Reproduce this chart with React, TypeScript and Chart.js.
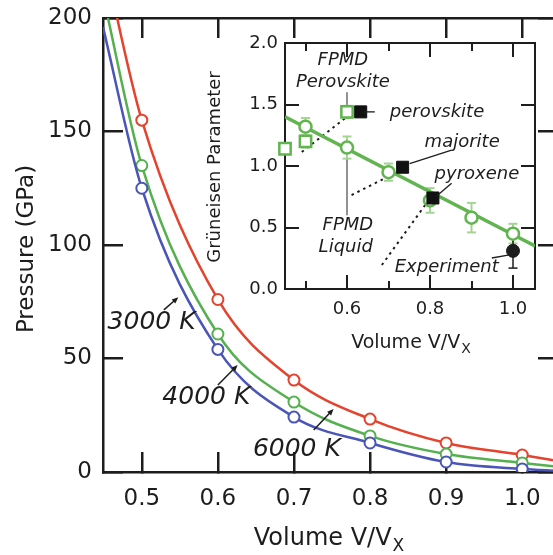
import { useEffect, useRef } from "react";
import { Chart, registerables } from "chart.js";

Chart.register(...registerables);

// Isotherms: pressure (GPa) against volume V/VX
const volumes = [0.5, 0.6, 0.7, 0.8, 0.9, 1.0];
const pressure3000K = [155, 76, 40.5, 23.3, 12.8, 7.5];
const pressure4000K = [135, 60.8, 30.8, 15.9, 7.9, 4.0];
const pressure6000K = [125, 54, 24.2, 12.8, 4.4, 1.3];
// where each isotherm meets the left and right edges of the frame
const edgeVolumes = [0.449, 1.047];
const edge3000K = [228, 4.8];
const edge4000K = [210, 2.3];
const edge6000K = [196, 0.5];

const pressureTicks = [0, 50, 100, 150, 200];
const pressureTickLabels = ["0", "50", "100", "150", "200"];
const volumeTicks = [0.5, 0.6, 0.7, 0.8, 0.9, 1.0];
const volumeTickLabels = ["0.5", "0.6", "0.7", "0.8", "0.9", "1.0"];
const isothermLabels = ["3000 K", "4000 K", "6000 K"];

// Inset: Grüneisen parameter against volume
const fitVolumes = [0.4506, 1.053];
const fitGamma = [1.4, 0.35];
const liquidVolumes = [0.5, 0.6, 0.7, 0.8, 0.9, 1.0];
const liquidGamma = [1.32, 1.15, 0.95, 0.72, 0.58, 0.45];
const liquidError = [0.07, 0.09, 0.07, 0.1, 0.12, 0.08];
const perovskiteFpmdVolumes = [0.4506, 0.5, 0.6];
const perovskiteFpmdGamma = [1.14, 1.2, 1.44];
const perovskiteFpmdError = [0.04, 0.05, 0.05];
const phaseNames = ["perovskite", "majorite", "pyroxene"];
const phaseVolumes = [0.633, 0.734, 0.807];
const phaseGamma = [1.44, 0.99, 0.74];
const experimentVolume = [1.0];
const experimentGamma = [0.31];
const experimentRange = [0.17, 0.44];
const gammaTicks = [0, 0.5, 1.0, 1.5, 2.0];
const gammaTickLabels = ["0.0", "0.5", "1.0", "1.5", "2.0"];
const insetMajorTicks = [0.6, 0.8, 1.0];
const insetMajorLabels = ["0.6", "0.8", "1.0"];
const insetMinorTicks = [0.5, 0.7, 0.9];

const FAMILY = "'DejaVu Sans', 'Liberation Sans', sans-serif";
const INK = "#1d1d1d";
const RED = "#e4432d";
const GREEN = "#55b04f";
const BLUE = "#4a55b8";
const INSET_GREEN = "#62b450";
const ERROR_GREEN = "#a3d493";

const toPoints = (xs: number[], ys: number[]) => xs.map((x, i) => ({ x, y: ys[i] }));

function isotherm(values: number[], edges: number[]) {
  return [
    { x: edgeVolumes[0], y: edges[0] },
    ...toPoints(volumes, values),
    { x: edgeVolumes[1], y: edges[1] },
  ];
}

// A framed axis with inward tick marks; `size` fixes the scale box thickness.
function frameAxis(opts: {
  position: "left" | "right" | "top" | "bottom";
  min: number;
  max: number;
  ticks: number[];
  labels?: string[];
  size: number;
  tickLength: number;
  width: number;
  fontSize?: number;
  padding?: number;
  weight?: number;
}) {
  const horizontal = opts.position === "top" || opts.position === "bottom";
  return {
    type: "linear",
    axis: horizontal ? "x" : "y",
    position: opts.position,
    weight: opts.weight ?? 0,
    min: opts.min,
    max: opts.max,
    afterBuildTicks: (s: any) => {
      s.ticks = opts.ticks.map((value) => ({ value }));
    },
    afterFit: (s: any) => {
      if (horizontal) s.height = opts.size;
      else s.width = opts.size;
      s.paddingLeft = 0;
      s.paddingRight = 0;
      s.paddingTop = 0;
      s.paddingBottom = 0;
    },
    grid: {
      display: true,
      drawOnChartArea: false,
      drawTicks: true,
      tickLength: -opts.tickLength,
      lineWidth: opts.width,
      color: INK,
    },
    border: { display: true, width: opts.width, color: INK },
    ticks: {
      display: !!opts.labels,
      autoSkip: false,
      maxRotation: 0,
      minRotation: 0,
      color: INK,
      padding: opts.padding ?? 0,
      font: { family: FAMILY, size: opts.fontSize ?? 12 },
      callback: (_v: any, i: number) => (opts.labels ? opts.labels[i] : ""),
    },
  };
}

function segment(ctx: CanvasRenderingContext2D, x1: number, y1: number, x2: number, y2: number) {
  ctx.beginPath();
  ctx.moveTo(x1, y1);
  ctx.lineTo(x2, y2);
  ctx.stroke();
}

function drawArrow(ctx: CanvasRenderingContext2D, x1: number, y1: number, x2: number, y2: number) {
  const ang = Math.atan2(y2 - y1, x2 - x1);
  const head = 7;
  segment(ctx, x1, y1, x2 - Math.cos(ang) * head * 0.6, y2 - Math.sin(ang) * head * 0.6);
  ctx.beginPath();
  ctx.moveTo(x2, y2);
  ctx.lineTo(x2 - head * Math.cos(ang - 0.4), y2 - head * Math.sin(ang - 0.4));
  ctx.lineTo(x2 - head * Math.cos(ang + 0.4), y2 - head * Math.sin(ang + 0.4));
  ctx.closePath();
  ctx.fill();
}

function drawSubscripted(
  ctx: CanvasRenderingContext2D,
  main: string,
  sub: string,
  cx: number,
  baseline: number,
  size: number,
  subSize: number,
  drop: number
) {
  ctx.font = `${size}px ${FAMILY}`;
  const w1 = ctx.measureText(main).width;
  ctx.font = `${subSize}px ${FAMILY}`;
  const w2 = ctx.measureText(sub).width;
  const x0 = cx - (w1 + w2 + 1) / 2;
  ctx.textAlign = "left";
  ctx.textBaseline = "alphabetic";
  ctx.font = `${size}px ${FAMILY}`;
  ctx.fillText(main, x0, baseline);
  ctx.font = `${subSize}px ${FAMILY}`;
  ctx.fillText(sub, x0 + w1 + 1, baseline + drop);
}

const mainDecor = {
  id: "mainDecor",
  afterDraw(chart: any) {
    const { ctx, chartArea: a, scales } = chart;
    const X = (v: number) => scales.x.getPixelForValue(v);
    const Y = (v: number) => scales.y.getPixelForValue(v);
    ctx.save();
    ctx.strokeStyle = INK;
    ctx.fillStyle = INK;

    drawSubscripted(ctx, "Volume V/V", "X", 329, a.bottom + 73, 24, 17, 6);
    ctx.save();
    ctx.translate(27, 249);
    ctx.rotate(-Math.PI / 2);
    ctx.font = `23px ${FAMILY}`;
    ctx.textAlign = "center";
    ctx.textBaseline = "middle";
    ctx.fillText("Pressure (GPa)", 0, 0);
    ctx.restore();

    // isotherm labels with arrows
    const spots = [
      { v: 0.455, p: 66, from: [0.529, 71.4], to: [0.548, 77] },
      { v: 0.527, p: 32.6, from: [0.6, 38.3], to: [0.626, 47.1] },
      { v: 0.646, p: 10.1, from: [0.726, 18.5], to: [0.752, 27.8] },
    ];
    ctx.font = `italic 25px ${FAMILY}`;
    ctx.textAlign = "left";
    ctx.textBaseline = "middle";
    ctx.lineWidth = 1.5;
    spots.forEach((s, i) => {
      ctx.fillText(isothermLabels[i], X(s.v), Y(s.p));
      drawArrow(ctx, X(s.from[0]), Y(s.from[1]), X(s.to[0]), Y(s.to[1]));
    });
    ctx.restore();
  },
};

const insetDecor = {
  id: "insetDecor",
  beforeDraw(chart: any) {
    const { ctx, chartArea: a } = chart;
    ctx.save();
    ctx.fillStyle = "#ffffff";
    ctx.fillRect(a.left, a.top, a.right - a.left, a.bottom - a.top);
    ctx.restore();
  },
  beforeDatasetsDraw(chart: any) {
    const { ctx, scales } = chart;
    const X = (v: number) => scales.x.getPixelForValue(v);
    const Y = (v: number) => scales.y.getPixelForValue(v);
    ctx.save();

    // dotted guides
    ctx.strokeStyle = INK;
    ctx.lineWidth = 2;
    ctx.setLineDash([2.5, 4]);
    const dotted = [
      [0.491, 1.114, 0.6, 1.4],
      [0.611, 0.764, 0.703, 0.92],
      [0.684, 0.195, 0.792, 0.7],
    ];
    dotted.forEach(([v1, g1, v2, g2]) => segment(ctx, X(v1), Y(g1), X(v2), Y(g2)));
    ctx.setLineDash([]);

    // FPMD pointers
    ctx.strokeStyle = "#6c6c6c";
    ctx.lineWidth = 1.5;
    segment(ctx, X(0.6), Y(1.6), X(0.6), Y(1.49));
    segment(ctx, X(0.6), Y(1.09), X(0.6), Y(0.6));

    // error bars
    const bar = (v: number, lo: number, hi: number, cap: number) => {
      const px = X(v);
      segment(ctx, px, Y(lo), px, Y(hi));
      segment(ctx, px - cap, Y(lo), px + cap, Y(lo));
      segment(ctx, px - cap, Y(hi), px + cap, Y(hi));
    };
    ctx.strokeStyle = ERROR_GREEN;
    ctx.lineWidth = 2;
    liquidVolumes.forEach((v, i) => bar(v, liquidGamma[i] - liquidError[i], liquidGamma[i] + liquidError[i], 4.5));
    perovskiteFpmdVolumes.forEach((v, i) =>
      bar(v, perovskiteFpmdGamma[i] - perovskiteFpmdError[i], perovskiteFpmdGamma[i] + perovskiteFpmdError[i], 4.5)
    );
    ctx.strokeStyle = INK;
    ctx.lineWidth = 1.5;
    bar(experimentVolume[0], experimentRange[0], experimentRange[1], 4.5);
    ctx.restore();
  },
  afterDraw(chart: any) {
    const { ctx, chartArea: a, scales } = chart;
    const X = (v: number) => scales.x.getPixelForValue(v);
    const Y = (v: number) => scales.y.getPixelForValue(v);
    ctx.save();
    ctx.strokeStyle = INK;
    ctx.fillStyle = INK;

    // leader lines to labels
    ctx.lineWidth = 1.3;
    const leaders = [
      [0.64, 1.44, 0.667, 1.44],
      [0.751, 1.02, 0.852, 1.13],
      [0.814, 0.75, 0.852, 0.86],
      [0.949, 0.252, 0.988, 0.276],
    ];
    leaders.forEach(([v1, g1, v2, g2]) => segment(ctx, X(v1), Y(g1), X(v2), Y(g2)));

    drawSubscripted(ctx, "Volume V/V", "X", (a.left + a.right) / 2 + 1, a.bottom + 59, 19, 14, 5);
    ctx.save();
    ctx.translate(a.left - 70, (a.top + a.bottom) / 2 + 1);
    ctx.rotate(-Math.PI / 2);
    ctx.font = `18px ${FAMILY}`;
    ctx.textAlign = "center";
    ctx.textBaseline = "middle";
    ctx.fillText("Grüneisen Parameter", 0, 0);
    ctx.restore();

    // annotations
    ctx.font = `italic 18px ${FAMILY}`;
    ctx.textBaseline = "middle";
    ctx.textAlign = "center";
    ctx.fillText("FPMD", X(0.59), Y(1.862));
    ctx.fillText("Perovskite", X(0.59), Y(1.683));
    ctx.fillText("FPMD", X(0.602), Y(0.518));
    ctx.fillText("Liquid", X(0.597), Y(0.34));
    ctx.textAlign = "left";
    const phaseSpots = [
      [0.703, 1.44],
      [0.787, 1.19],
      [0.811, 0.935],
    ];
    phaseNames.forEach((name, i) => ctx.fillText(name, X(phaseSpots[i][0]), Y(phaseSpots[i][1])));
    ctx.fillText("Experiment", X(0.715), Y(0.178));
    ctx.restore();
  },
};

export default function App() {
  const mainRef = useRef<HTMLCanvasElement>(null);
  const insetRef = useRef<HTMLCanvasElement>(null);

  useEffect(() => {
    const lineStyle = (color: string, n: number) => ({
      borderColor: color,
      borderWidth: 2.5,
      showLine: true,
      cubicInterpolationMode: "monotone" as const,
      pointRadius: Array.from({ length: n }, (_, i) => (i === 0 || i === n - 1 ? 0 : 5.5)),
      pointBorderWidth: 2,
      pointBorderColor: color,
      pointBackgroundColor: "#ffffff",
    });
    const vMin = 0.449;
    const vMax = 1.047;
    const mainChart = new Chart(mainRef.current!, {
      type: "scatter",
      data: {
        datasets: [
          { label: "6000 K", data: isotherm(pressure6000K, edge6000K), ...lineStyle(BLUE, 8) },
          { label: "4000 K", data: isotherm(pressure4000K, edge4000K), ...lineStyle(GREEN, 8) },
          { label: "3000 K", data: isotherm(pressure3000K, edge3000K), ...lineStyle(RED, 8) },
        ],
      },
      options: {
        responsive: false,
        maintainAspectRatio: false,
        animation: false,
        events: [],
        layout: { autoPadding: false, padding: { left: 0, top: 18, right: 2, bottom: 0 } },
        scales: {
          x: frameAxis({ position: "bottom", min: vMin, max: vMax, ticks: volumeTicks, labels: volumeTickLabels, size: 83, tickLength: 20, width: 2.5, fontSize: 23, padding: 33 }),
          xTop: frameAxis({ position: "top", min: vMin, max: vMax, ticks: volumeTicks, size: 0, tickLength: 20, width: 2.5 }),
          y: frameAxis({ position: "left", min: 0, max: 200, ticks: pressureTicks, labels: pressureTickLabels, size: 103, tickLength: 20, width: 2.5, fontSize: 23, padding: 31 }),
          yRight: frameAxis({ position: "right", min: 0, max: 200, ticks: pressureTicks, size: 0, tickLength: 20, width: 2.5 }),
        } as any,
        plugins: { legend: { display: false }, tooltip: { enabled: false } },
      },
      plugins: [mainDecor],
    });

    const gMin = 0.4506;
    const gMax = 1.053;
    const insetChart = new Chart(insetRef.current!, {
      type: "scatter",
      data: {
        datasets: [
          {
            label: "Experiment",
            data: toPoints(experimentVolume, experimentGamma),
            pointRadius: 6.5,
            pointBackgroundColor: INK,
            pointBorderColor: INK,
            clip: false,
          },
          {
            label: "Phases",
            data: toPoints(phaseVolumes, phaseGamma),
            pointStyle: "rect",
            pointRadius: 8.5,
            pointBackgroundColor: "#111111",
            pointBorderColor: "#111111",
            clip: false,
          },
          {
            label: "FPMD Liquid",
            data: toPoints(liquidVolumes, liquidGamma),
            pointRadius: 6,
            pointBorderWidth: 2.5,
            pointBorderColor: INSET_GREEN,
            pointBackgroundColor: "#ffffff",
            clip: false,
          },
          {
            label: "FPMD Perovskite",
            data: toPoints(perovskiteFpmdVolumes, perovskiteFpmdGamma),
            pointStyle: "rect",
            pointRadius: 8,
            pointBorderWidth: 2.5,
            pointBorderColor: INSET_GREEN,
            pointBackgroundColor: "#ffffff",
            clip: false,
          },
          {
            label: "Fit",
            data: toPoints(fitVolumes, fitGamma),
            showLine: true,
            borderColor: INSET_GREEN,
            borderWidth: 3.5,
            pointRadius: 0,
          },
        ],
      },
      options: {
        responsive: false,
        maintainAspectRatio: false,
        animation: false,
        events: [],
        layout: { autoPadding: false, padding: { left: 0, top: 13, right: 15, bottom: 0 } },
        scales: {
          x: frameAxis({ position: "bottom", min: gMin, max: gMax, ticks: insetMajorTicks, labels: insetMajorLabels, size: 71, tickLength: 14, width: 2, fontSize: 18, padding: 24, weight: 1 }),
          xMinor: frameAxis({ position: "bottom", min: gMin, max: gMax, ticks: insetMinorTicks, size: 0, tickLength: 8, width: 2, weight: -1 }),
          xTop: frameAxis({ position: "top", min: gMin, max: gMax, ticks: insetMajorTicks, size: 0, tickLength: 14, width: 2 }),
          xTopMinor: frameAxis({ position: "top", min: gMin, max: gMax, ticks: insetMinorTicks, size: 0, tickLength: 8, width: 2, weight: -1 }),
          y: frameAxis({ position: "left", min: 0, max: 2, ticks: gammaTicks, labels: gammaTickLabels, size: 105, tickLength: 14, width: 2, fontSize: 18, padding: 21 }),
          yRight: frameAxis({ position: "right", min: 0, max: 2, ticks: gammaTicks, size: 0, tickLength: 14, width: 2 }),
        } as any,
        plugins: { legend: { display: false }, tooltip: { enabled: false } },
      },
      plugins: [insetDecor],
    });

    return () => {
      mainChart.destroy();
      insetChart.destroy();
    };
  }, []);

  return (
    <div style={{ position: "fixed", left: 0, top: 0, width: 560, height: 555, background: "#ffffff" }}>
      <canvas ref={mainRef} width={560} height={555} style={{ position: "absolute", left: 0, top: 0 }} />
      <canvas ref={insetRef} width={370} height={330} style={{ position: "absolute", left: 180, top: 30 }} />
    </div>
  );
}
